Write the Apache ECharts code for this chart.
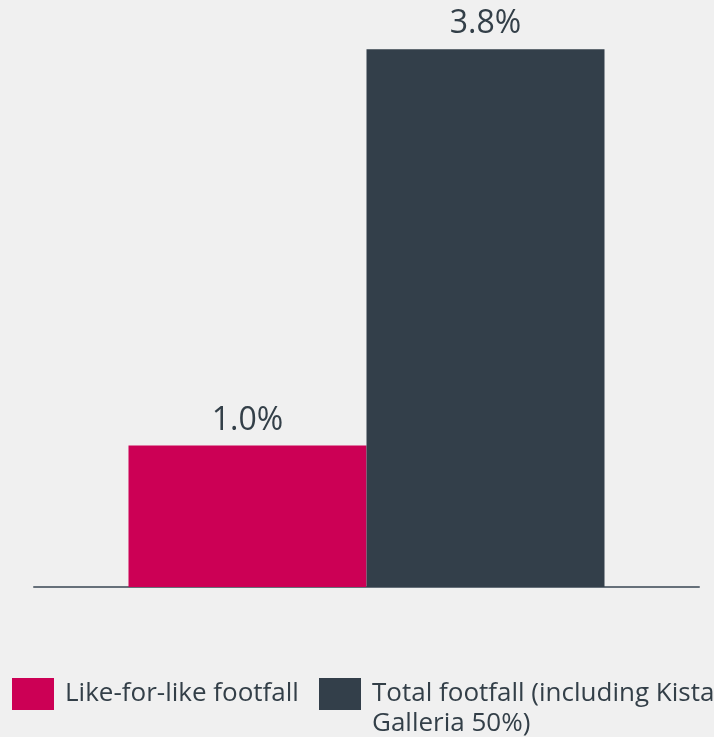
<!DOCTYPE html>
<html>
<head>
<meta charset="utf-8">
<script src="https://cdn.jsdelivr.net/npm/echarts@6/dist/echarts.min.js"></script>
<style>
html,body{margin:0;padding:0;background:#f0f0f0;}
#chart{width:714px;height:737px;}
</style>
</head>
<body>
<div id="chart"></div>
<script>
const categories = [''];
const seriesNames = ['Like-for-like footfall', 'Total footfall (including Kista Galleria 50%)'];
const likeForLike = [1.0];
const totalFootfall = [3.8];
const colors = ['#cc0055', '#333f4a'];
const textColor = '#333f48';
const font = '"Open Sans", "Noto Sans", sans-serif';

const chart = echarts.init(document.getElementById('chart'), null, {renderer: 'canvas'});
const labelCfg = {
  show: true, position: 'top', distance: 9,
  color: textColor, fontSize: 32, fontFamily: font,
  formatter: p => p.value.toFixed(1) + '%'
};
chart.setOption({
  backgroundColor: '#f0f0f0',
  animation: false,
  grid: {left: 34, right: 15, top: 21, bottom: 150},
  xAxis: {
    type: 'category', data: categories,
    axisLine: {lineStyle: {color: '#66707a', width: 2}},
    axisTick: {show: false}, axisLabel: {show: false}
  },
  yAxis: {type: 'value', min: 0, max: 4, show: false, splitLine: {show: false}},
  legend: [
    {
      left: 12, top: 678, padding: 0, itemWidth: 42, itemHeight: 32, icon: 'rect',
      data: [{name: seriesNames[0]}],
      textStyle: {color: textColor, fontSize: 26, fontFamily: font, padding: [0, 0, 0, 6]}
    },
    {
      left: 319, top: 649, padding: 0, itemWidth: 42, itemHeight: 32, icon: 'rect',
      data: [{name: seriesNames[1]}],
      formatter: n => ' \n' + n.replace(' Galleria', '\nGalleria'),
      textStyle: {color: textColor, fontSize: 26, fontFamily: font, lineHeight: 30, padding: [0, 0, 0, 6]}
    }
  ],
  series: [
    {name: seriesNames[0], type: 'bar', data: likeForLike, barWidth: 238, barGap: '0%',
     itemStyle: {color: colors[0]}, label: labelCfg},
    {name: seriesNames[1], type: 'bar', data: totalFootfall, barWidth: 238, barGap: '0%',
     itemStyle: {color: colors[1]}, label: labelCfg}
  ]
});
</script>
</body>
</html>
